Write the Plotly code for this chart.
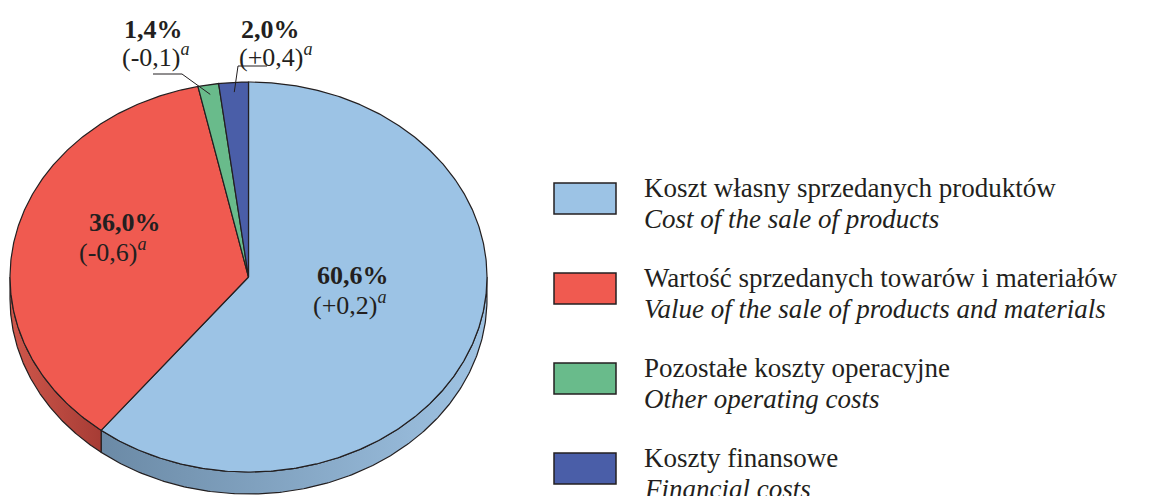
import numpy as np
import plotly.graph_objects as go

# ---- data ----
categories_pl = [
    "Koszt własny sprzedanych produktów",
    "Wartość sprzedanych towarów i materiałów",
    "Pozostałe koszty operacyjne",
    "Koszty finansowe",
]
categories_en = [
    "Cost of the sale of products",
    "Value of the sale of products and materials",
    "Other operating costs",
    "Financial costs",
]
shares = [60.6, 36.0, 1.4, 2.0]          # % of total costs
changes = ["+0,2", "-0,6", "-0,1", "+0,4"]  # change vs previous year (p.p.)

# ---- styles ----
top_colors = ["#9cc3e5", "#f05a50", "#69bb8b", "#4a5ea8"]
side_colors = [("#6b8aa6", "#9fc3e3"), ("#d0574b", "#a63c35"),
               ("#4f9a6c", "#3d8458"), ("#36468a", "#2c3a78")]
edge = "#231f20"
FONT = "Liberation Serif, Times New Roman, serif"

W, H = 1158, 496
cx, cy, rx, ry, depth = 248.5, 277.0, 238.5, 195.0, 22.0


def px(theta):
    return cx + rx * np.sin(np.radians(theta))


def py(theta):
    return cy - ry * np.cos(np.radians(theta))


fig = go.Figure()

# angles (clockwise from 12 o'clock) from cumulative shares
total = sum(shares)
bounds = np.concatenate([[0], np.cumsum(shares)]) / total * 360.0

# side walls (visible front half: 90..270 degrees)
for i, v in enumerate(shares):
    a0, a1 = bounds[i], bounds[i + 1]
    lo, hi = max(a0, 90.0), min(a1, 270.0)
    if hi <= lo:
        continue
    t = np.linspace(lo, hi, 200)
    xs = np.concatenate([px(t), px(t[::-1]), [px(t[0])]])
    ys = np.concatenate([py(t), py(t[::-1]) + depth, [py(t[0])]])
    fig.add_trace(go.Scatter(
        x=xs, y=ys, mode="lines", fill="toself",
        fillgradient=dict(type="horizontal",
                          colorscale=[[0, side_colors[i][0]], [1, side_colors[i][1]]]),
        line=dict(color=edge, width=1.2), hoverinfo="skip", showlegend=False))

# top faces
for i, v in enumerate(shares):
    a0, a1 = bounds[i], bounds[i + 1]
    t = np.linspace(a0, a1, max(int((a1 - a0) * 2), 8))
    xs = np.concatenate([[cx], px(t), [cx]])
    ys = np.concatenate([[cy], py(t), [cy]])
    fig.add_trace(go.Scatter(
        x=xs, y=ys, mode="lines", fill="toself", fillcolor=top_colors[i],
        line=dict(color=edge, width=1.2), hoverinfo="skip", showlegend=False,
        name=categories_en[i]))

# ---- labels ----
def pct(v):
    return f"{v:.1f}".replace(".", ",") + "%"


label_pos = [  # (bold x, bold y, sub x, sub y)
    (353, 275, 350, 303),
    (125, 222, 113, 250),
    (153, 29, 156, 55),
    (270, 29, 276, 55),
]
for i, v in enumerate(shares):
    bx, by, sx, sy = label_pos[i]
    fig.add_annotation(x=bx, y=by, xref="x", yref="y", showarrow=False,
                       text=f"<b>{pct(v)}</b>", xanchor="center", yanchor="middle",
                       font=dict(family=FONT, size=26, color=edge))
    fig.add_annotation(x=sx, y=sy, xref="x", yref="y", showarrow=False,
                       text=f"({changes[i]})<sup><i>a</i></sup>",
                       xanchor="center", yanchor="middle",
                       font=dict(family=FONT, size=26, color=edge))

# leader lines for the two small slices, ending inside their slices
leader_start = {2: [(153, 74), (182, 74)], 3: [(267, 66), (238, 66)]}
for i, pts in leader_start.items():
    mid = (bounds[i] + bounds[i + 1]) / 2
    ex = cx + 0.95 * rx * np.sin(np.radians(mid))
    ey = cy - 0.95 * ry * np.cos(np.radians(mid))
    xs = [p[0] for p in pts] + [ex]
    ys = [p[1] for p in pts] + [ey]
    fig.add_trace(go.Scatter(x=xs, y=ys, mode="lines",
                             line=dict(color=edge, width=1.0),
                             hoverinfo="skip", showlegend=False))

# ---- legend ----
for i in range(len(shares)):
    y0 = 183 + 90 * i
    fig.add_shape(type="rect", xref="x", yref="y", x0=554, x1=616, y0=y0, y1=y0 + 31,
                  fillcolor=top_colors[i], line=dict(color=edge, width=1.5))
    fig.add_annotation(x=642, y=y0 + 5, xref="x", yref="y", showarrow=False,
                       text=categories_pl[i], xanchor="left", yanchor="middle",
                       font=dict(family=FONT, size=27, color=edge))
    fig.add_annotation(x=642, y=y0 + 36, xref="x", yref="y", showarrow=False,
                       text=f"<i>{categories_en[i]}</i>", xanchor="left", yanchor="middle",
                       font=dict(family=FONT, size=27, color=edge))

fig.update_layout(
    width=W, height=H, margin=dict(l=0, r=0, t=0, b=0),
    paper_bgcolor="white", plot_bgcolor="white", showlegend=False,
    xaxis=dict(range=[0, W], visible=False, fixedrange=True),
    yaxis=dict(range=[H, 0], visible=False, fixedrange=True),
)
fig.write_html("out.html", config={"displayModeBar": False})

# remove the browser's default page margin so the figure sits at (0, 0)
with open("out.html", encoding="utf-8") as f:
    html = f.read()
html = html.replace("<head>", "<head><style>html,body{margin:0;padding:0;overflow:hidden}</style>", 1)
with open("out.html", "w", encoding="utf-8") as f:
    f.write(html)
